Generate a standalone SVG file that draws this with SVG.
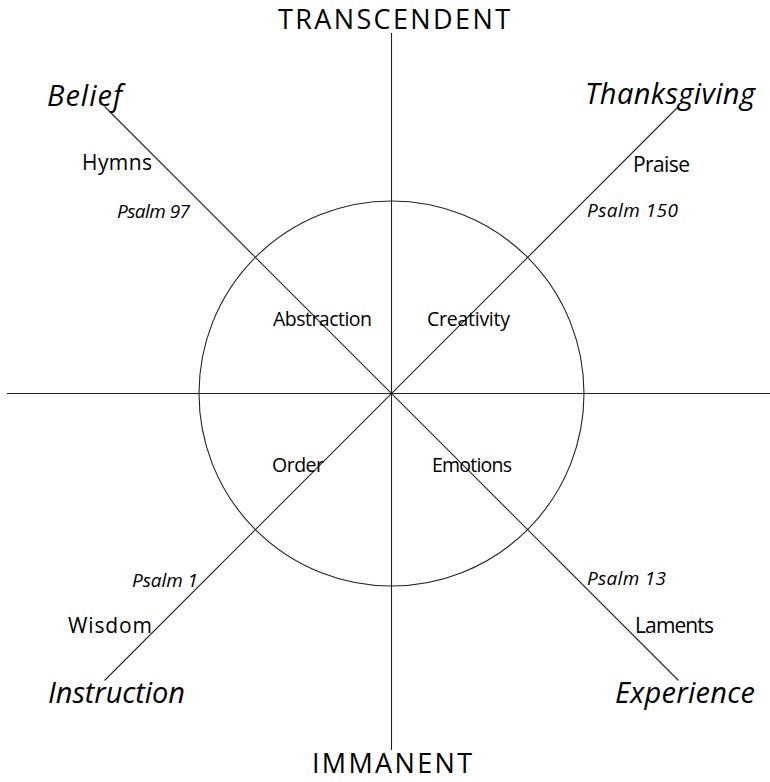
<svg xmlns="http://www.w3.org/2000/svg" width="770" height="782" viewBox="0 0 770 782">
<style>
text{font-family:"Open Sans","Noto Sans","DejaVu Sans",sans-serif;fill:#000}
.big{font-size:29px;font-style:italic}
.pole{font-size:27px}
.mid{font-size:21px}
.inner{font-size:19.5px}
.ps{font-size:19px;font-style:italic}
.ln{stroke:#222;stroke-width:1.1;fill:none}
</style>
<rect width="770" height="782" fill="#fff"/>
<g id="connectors">
<line class="ln" x1="7" y1="393.5" x2="770" y2="393.5"/>
<line class="ln" x1="391.5" y1="33" x2="391.5" y2="750"/>
<line class="ln" x1="104.5" y1="106.5" x2="678.5" y2="680.5"/>
<line class="ln" x1="678.5" y1="106.5" x2="104.5" y2="680.5"/>
<circle class="ln" cx="391.5" cy="393.5" r="192.5"/>
</g>
<g id="transcendent"><text class="pole" x="278" y="29" textLength="232">TRANSCENDENT</text></g>
<g id="immanent"><text class="pole" x="312" y="773" textLength="160">IMMANENT</text></g>
<g id="belief">
<text class="big" x="47" y="106" textLength="75">Belief</text>
<text class="mid" x="82" y="170" textLength="70">Hymns</text>
<text class="ps" x="117" y="218" textLength="73">Psalm 97</text>
</g>
<g id="thanksgiving">
<text class="big" x="585" y="104" textLength="170">Thanksgiving</text>
<text class="mid" x="633" y="172" textLength="57">Praise</text>
<text class="ps" x="587" y="217" textLength="91">Psalm 150</text>
</g>
<g id="instruction">
<text class="ps" x="132" y="587" textLength="66">Psalm 1</text>
<text class="mid" x="68" y="633" textLength="84">Wisdom</text>
<text class="big" x="48" y="703" textLength="137">Instruction</text>
</g>
<g id="experience">
<text class="ps" x="587" y="585" textLength="79">Psalm 13</text>
<text class="mid" x="635" y="633" textLength="79">Laments</text>
<text class="big" x="615" y="703" textLength="140">Experience</text>
</g>
<g id="abstraction"><text class="inner" x="273" y="326" textLength="99">Abstraction</text></g>
<g id="creativity"><text class="inner" x="427" y="326" textLength="83">Creativity</text></g>
<g id="order"><text class="inner" x="272" y="472" textLength="52">Order</text></g>
<g id="emotions"><text class="inner" x="432" y="472" textLength="80">Emotions</text></g>
</svg>
